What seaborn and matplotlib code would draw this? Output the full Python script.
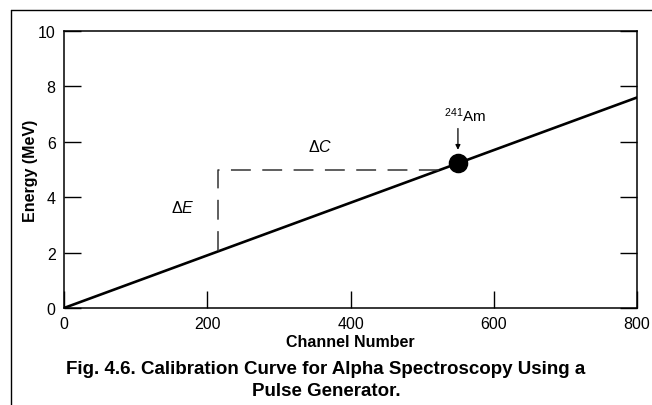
import matplotlib
matplotlib.use("Agg")
import matplotlib.pyplot as plt
import seaborn as sns
import pandas as pd
from matplotlib.lines import Line2D

# calibration line (channel -> energy)
channel = [0, 800]
energy = [0.0, 7.6]

# 241Am reference peak
am_channel = [550]
am_energy = [5.23]

# delta construction (dashed)
delta_channel = [215, 215, 526]
delta_energy = [2.04, 5.0, 5.0]

x_ticks = [0, 200, 400, 600, 800]
y_ticks = [0, 2, 4, 6, 8, 10]

sns.set_style("ticks")
plt.rcParams['font.family'] = ['Liberation Sans', 'DejaVu Sans']
plt.rcParams['mathtext.fontset'] = 'custom'
plt.rcParams['mathtext.it'] = 'Liberation Sans:italic'
plt.rcParams['mathtext.rm'] = 'Liberation Sans'
plt.rcParams['text.color'] = 'black'
plt.rcParams['axes.labelcolor'] = 'black'
plt.rcParams['xtick.color'] = 'black'
plt.rcParams['ytick.color'] = 'black'

fig = plt.figure(figsize=(6.52, 4.06), dpi=100)
ax = fig.add_axes([64 / 652, 1 - 309 / 406, 573 / 652, 277 / 406])

df = pd.DataFrame({'Channel': channel, 'Energy': energy})
sns.lineplot(data=df, x='Channel', y='Energy', ax=ax, color='black',
             linewidth=1.9, estimator=None)

dash = pd.DataFrame({'Channel': delta_channel, 'Energy': delta_energy})
sns.lineplot(data=dash, x='Channel', y='Energy', ax=ax, color='#333333',
             linewidth=1.1, sort=False, estimator=None, linestyle=(0, (13, 7.5)))

sns.scatterplot(x=am_channel, y=am_energy, ax=ax, color='black', s=170,
                edgecolor='black', zorder=5)

ax.annotate('', xy=(am_channel[0], am_energy[0] + 0.38),
            xytext=(am_channel[0], am_energy[0] + 1.35),
            arrowprops=dict(arrowstyle='-|>', color='black', lw=0.9,
                            mutation_scale=7))
ax.text(am_channel[0] + 10, am_energy[0] + 1.4, r'$^{241}$Am', ha='center',
        va='bottom', fontsize=11)
ax.text(357, 5.85, r'$\Delta C$', ha='center', va='center', fontsize=11.5)
ax.text(166, 3.65, r'$\Delta E$', ha='center', va='center', fontsize=11.5)

ax.set_xlim(0, 800)
ax.set_ylim(0, 10)
ax.set_xticks(x_ticks)
ax.set_yticks(y_ticks)
ax.tick_params(axis='both', direction='in', length=12, width=1.0,
               labelsize=11.5, pad=6, color='black', top=False)
ax.tick_params(axis='y', right=True)
for s in ax.spines.values():
    s.set_visible(True)
    s.set_linewidth(1.1)
    s.set_color('black')

ax.set_xlabel('Channel Number', fontsize=11.5, fontweight='bold', labelpad=2)
ax.set_ylabel('Energy (MeV)', fontsize=11.5, fontweight='bold')
ax.yaxis.set_label_coords(-0.045, 0.5)

fig.text(0.5, 1 - 370 / 406, 'Fig. 4.6. Calibration Curve for Alpha Spectroscopy Using a',
         ha='center', va='center', fontsize=13.5, fontweight='bold')
fig.text(0.5, 1 - 392 / 406, 'Pulse Generator.',
         ha='center', va='center', fontsize=13.5, fontweight='bold')

# outer frame (left and top edges)
fig.add_artist(Line2D([10.5 / 652, 10.5 / 652], [0, 1 - 10.5 / 406],
                      color='black', lw=1.0, transform=fig.transFigure))
fig.add_artist(Line2D([10.5 / 652, 1], [1 - 10.5 / 406, 1 - 10.5 / 406],
                      color='black', lw=1.0, transform=fig.transFigure))

fig.savefig('out.png', dpi=100)
